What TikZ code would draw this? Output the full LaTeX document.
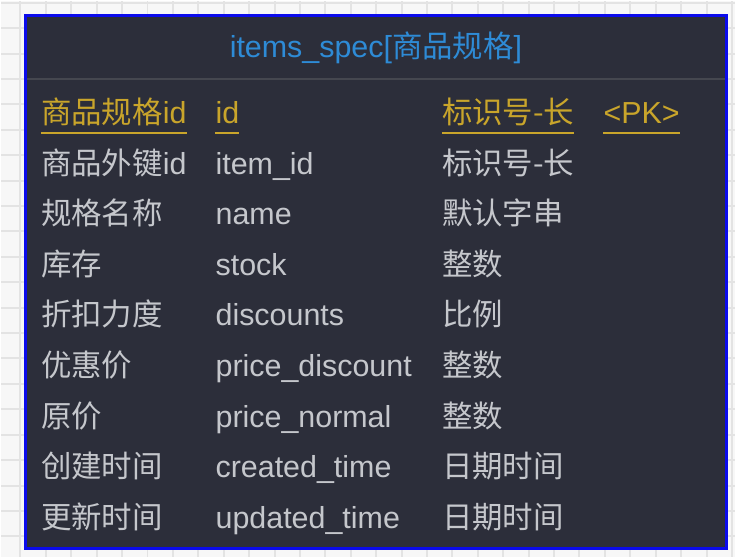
\documentclass[tikz,border=0pt]{standalone}
\usepackage{fontspec}
\setmainfont{Liberation Sans}
\newfontfamily\cjk{Noto Sans CJK SC}
\usetikzlibrary{positioning, calc}
\definecolor{cpaper}{HTML}{F7F7F7}
\definecolor{cgridl}{HTML}{E3E3E3}
\definecolor{ctable}{HTML}{2C2E3A}
\definecolor{cframe}{HTML}{0B0BEB}
\definecolor{csep}{HTML}{45474F}
\definecolor{ctitle}{HTML}{2E8BD6}
\definecolor{ckey}{HTML}{C9A52B}
\definecolor{ccell}{HTML}{C5C7CC}
\newcommand{\zh}[1]{{\cjk #1}}
\tikzset{
  every picture/.style={x=1pt, y=-1pt, font=\fontsize{30.5}{36}\selectfont},
  gridline/.style={draw=cgridl, line width=2pt},
  frame/.style={draw=cframe, fill=ctable, line width=3pt},
  sepline/.style={draw=csep, line width=2pt},
  title/.style={text=ctitle, anchor=base, inner sep=0pt},
  keycell/.style={text=ckey, anchor=base west, inner sep=0pt},
  cell/.style={text=ccell, anchor=base west, inner sep=0pt},
  uline/.style={draw=ckey, line width=2.5pt},
}

\begin{document}
\begin{tikzpicture}
  % paper with grid
  \fill[cpaper] (0,0) rectangle (736,558);
  \foreach \i in {0,...,28} \draw[gridline] (19.5+25.48*\i,0) -- (19.5+25.48*\i,558);
  \foreach \j in {0,...,21} \draw[gridline] (0,1.7+25.48*\j) -- (736,1.7+25.48*\j);
  \useasboundingbox (0,0) rectangle (736,558);
  % table frame and title
  \draw[frame] (24.5,14.5) rectangle (727.5,548.5);
  \node[title] (ttl) at (376,57) {items\_spec[\zh{商品规格}]};
  \draw[sepline] (26,78) -- (726,78);
  % primary key
  \node[keycell] (k1) at (40,123) {\zh{商品规格}id};
  \node[keycell] (k2) at (215,123) {id};
  \node[keycell] (k3) at (442,123) {\zh{标识号-长}};
  \node[keycell] (k4) at (604,123) {<PK>};
  \foreach \k in {1,...,4}
    \draw[uline] ([yshift=-9.5pt]k\k.base west) -- ([yshift=-9.5pt]k\k.base east);
  % other columns
  \foreach \cname/\fname/\tname [count=\r] in {
      \zh{商品外键}id/item\_id/标识号-长,
      \zh{规格名称}/name/默认字串,
      \zh{库存}/stock/整数,
      \zh{折扣力度}/discounts/比例,
      \zh{优惠价}/price\_discount/整数,
      \zh{原价}/price\_normal/整数,
      \zh{创建时间}/created\_time/日期时间,
      \zh{更新时间}/updated\_time/日期时间}
  {
    \node[cell] (a\r) at (40,123+50.7*\r) {\cname};
    \node[cell] (b\r) at (215,123+50.7*\r) {\fname};
    \node[cell] (c\r) at (442,123+50.7*\r) {\zh{\tname}};
  }
\end{tikzpicture}
\end{document}
